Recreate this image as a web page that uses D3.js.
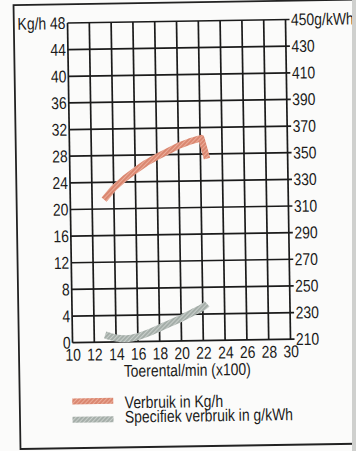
<!DOCTYPE html>
<html>
<head>
<meta charset="utf-8">
<script src="https://cdn.jsdelivr.net/npm/d3@7"></script>
<style>
  html, body { margin: 0; padding: 0; background: #fbfbfa; }
  svg { display: block; }
  text { font-family: "Liberation Sans", Arial, sans-serif; fill: #1b1b1b; }
</style>
</head>
<body>
<div id="chart"></div>
<script>
// ticks
var rpmTicks = [10, 12, 14, 16, 18, 20, 22, 24, 26, 28, 30];
var kgTicks = [0, 4, 8, 12, 16, 20, 24, 28, 32, 36, 40, 44, 48];
var gTicks = [210, 230, 250, 270, 290, 310, 330, 350, 370, 390, 410, 430, 450];

// Verbruik in Kg/h
var kgRpm = [13.1, 14, 15, 16, 17, 18, 19, 20, 21, 22.1, 22.6];
var kgVal = [21.4, 23.1, 24.5, 25.7, 26.8, 27.7, 28.5, 29.3, 29.9, 30.4, 27.3];

// Specifiek verbruik in g/kWh
var gRpm = [13.0, 14, 15, 16, 17, 18, 19, 20, 21, 22, 22.4];
var gVal = [215.5, 213, 212.3, 213.8, 216.5, 220, 223.5, 227, 231, 235, 237.5];

var legendLabels = ["Verbruik in Kg/h", "Specifiek verbruik in g/kWh"];
var colors = ["#da8770", "#a5aea9"];
var hatchColors = ["#ebab98", "#c9cfcb"];

var width = 356, height = 451;
var plotLeft = 70.7, plotRight = 288.7, plotTop = 21.3, plotBottom = 341;

var svg = d3.select("#chart").append("svg")
  .attr("width", width)
  .attr("height", height);

// printed hatch on the bands
var defs = svg.append("defs");
colors.forEach(function (c, i) {
  var p = defs.append("pattern")
    .attr("id", "hatch" + i)
    .attr("patternUnits", "userSpaceOnUse")
    .attr("width", 3).attr("height", 3)
    .attr("patternTransform", "rotate(45)");
  p.append("rect").attr("width", 3).attr("height", 3).attr("fill", c);
  p.append("rect").attr("width", 1).attr("height", 3).attr("fill", hatchColors[i]);
});

// narrow type: squeeze text horizontally around its own x
function narrow (sel) {
  sel.each(function () {
    var tx = +this.getAttribute("x") || 0;
    d3.select(this).attr("transform",
      "translate(" + tx + ",0) scale(0.82,1) translate(" + (-tx) + ",0)");
  });
}

// scanned page is a bit tilted
var page = svg.append("g")
  .attr("transform", "rotate(-0.9, 178, 225)");

// outer frame
page.append("rect")
  .attr("x", 17).attr("y", 2.5)
  .attr("width", 360).attr("height", 444)
  .attr("fill", "none")
  .attr("stroke", "#222")
  .attr("stroke-width", 1.8);

var x = d3.scaleLinear().domain([10, 30]).range([plotLeft, plotRight]);
var yKg = d3.scaleLinear().domain([0, 48]).range([plotBottom, plotTop]);
var yG = d3.scaleLinear().domain([210, 450]).range([plotBottom, plotTop]);

// grid
var grid = page.append("g").attr("stroke", "#1b1b1b").attr("stroke-width", 1.7);
grid.selectAll(".v").data(rpmTicks).enter().append("line")
  .attr("class", "v")
  .attr("x1", function (d) { return x(d); })
  .attr("x2", function (d) { return x(d); })
  .attr("y1", plotTop).attr("y2", plotBottom);
grid.selectAll(".h").data(kgTicks).enter().append("line")
  .attr("class", "h")
  .attr("x1", plotLeft).attr("x2", plotRight + 4)
  .attr("y1", function (d) { return yKg(d); })
  .attr("y2", function (d) { return yKg(d); });

// axes (labels only, grid draws the lines)
var axisLeft = page.append("g")
  .attr("transform", "translate(" + plotLeft + ",0)")
  .call(d3.axisLeft(yKg).tickValues(kgTicks).tickSize(0).tickPadding(2)
    .tickFormat(function (d) { return d === 48 ? "Kg/h 48" : d; }));

var axisRight = page.append("g")
  .attr("transform", "translate(" + (plotRight + 4) + ",0)")
  .call(d3.axisRight(yG).tickValues(gTicks).tickSize(0).tickPadding(1.5)
    .tickFormat(function (d) { return d === 450 ? "450g/kWh" : d; }));

var axisBottom = page.append("g")
  .attr("transform", "translate(0," + plotBottom + ")")
  .call(d3.axisBottom(x).tickValues(rpmTicks).tickSize(0).tickPadding(6));

[axisLeft, axisRight, axisBottom].forEach(function (a) {
  a.select(".domain").remove();
  a.selectAll("text")
    .attr("font-size", 17)
    .attr("font-family", null)
    .attr("fill", "#1b1b1b")
    .call(narrow);
});

page.append("text")
  .attr("x", 185).attr("y", 376)
  .attr("text-anchor", "middle")
  .attr("font-size", 17)
  .text("Toerental/min (x100)")
  .call(narrow);

// curves
var kgLine = d3.line()
  .x(function (d, i) { return x(kgRpm[i]); })
  .y(function (d) { return yKg(d); })
  .curve(d3.curveLinear);

var gLine = d3.line()
  .x(function (d, i) { return x(gRpm[i]); })
  .y(function (d) { return yG(d); })
  .curve(d3.curveCatmullRom);

page.append("path")
  .attr("d", gLine(gVal))
  .attr("fill", "none")
  .attr("stroke", "url(#hatch1)")
  .attr("stroke-width", 7);

page.append("path")
  .attr("d", kgLine(kgVal))
  .attr("fill", "none")
  .attr("stroke", "url(#hatch0)")
  .attr("stroke-width", 6.5)
  .attr("stroke-linejoin", "round");

// legend
var legend = page.append("g");
legend.selectAll("rect").data(legendLabels).enter().append("rect")
  .attr("x", 69.5)
  .attr("y", function (d, i) { return 396.8 + i * 18.3; })
  .attr("width", 41)
  .attr("height", 6)
  .attr("fill", function (d, i) { return "url(#hatch" + i + ")"; });
legend.selectAll("text").data(legendLabels).enter().append("text")
  .attr("x", 122)
  .attr("y", function (d, i) { return 407.5 + i * 14.3; })
  .attr("font-size", 17)
  .text(function (d) { return d; })
  .call(narrow);

// edge of the scanned page
svg.append("rect")
  .attr("x", 352).attr("y", 0)
  .attr("width", 4).attr("height", height)
  .attr("fill", "#cfd0ce");
</script>
</body>
</html>
